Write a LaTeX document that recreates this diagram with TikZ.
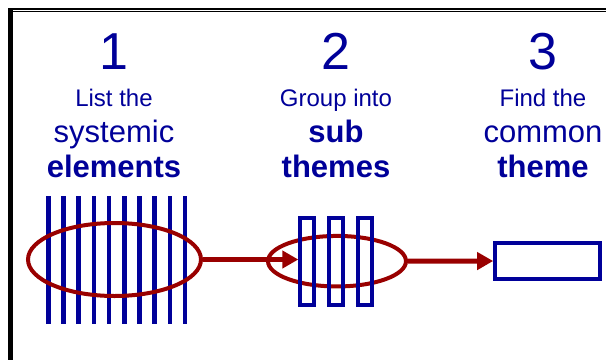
\documentclass[tikz,border=0pt]{standalone}
\usepackage{fontspec}
\setmainfont{Liberation Sans}
\usetikzlibrary{arrows.meta,shapes.geometric}
\definecolor{navy}{RGB}{0,0,153}
\definecolor{darkred}{RGB}{153,0,0}
\tikzset{
  digit/.style={anchor=base,text=navy,font=\fontsize{52}{52}\selectfont,inner sep=0},
  small/.style={anchor=base,text=navy,font=\fontsize{24}{24}\selectfont,inner sep=0},
  big/.style={anchor=base,text=navy,font=\fontsize{31}{31}\selectfont,inner sep=0},
  bigb/.style={anchor=base,text=navy,font=\fontsize{31}{31}\selectfont\bfseries,inner sep=0},
  ring/.style={ellipse,draw=darkred,line width=4pt,inner sep=0},
  bar/.style={draw=navy,line width=4.7pt},
  box/.style={rectangle,draw=navy,line width=4pt,inner sep=0},
  link/.style={draw=darkred,line width=5pt,-{Triangle[length=16pt,width=17pt]}},
}
\begin{document}
\begin{tikzpicture}[x=1pt,y=-1pt]
\useasboundingbox (0,0) rectangle (606,360);
% frame
\draw[line width=2.2pt] (8,9) -- (606,9);
\draw[line width=0.9pt] (11,11.4) -- (606,11.4);
\draw[line width=4.4pt] (10.5,8) -- (10.5,360);
% texts
\node[digit] (n1) at (114,69) {1};
\node[small] (a1) at (114,106) {List the};
\node[big]   (b1) at (114,142) {systemic};
\node[bigb]  (c1) at (114,177) {elements};
\node[digit] (n2) at (336,69) {2};
\node[small] (a2) at (336,106) {Group into};
\node[bigb]  (b2) at (336,142) {sub};
\node[bigb]  (c2) at (336,177) {themes};
\node[digit] (n3) at (543,69) {3};
\node[small] (a3) at (543,106) {Find the};
\node[big]   (b3) at (543,142) {common};
\node[bigb]  (c3) at (543,177) {theme};
% group 1
\foreach \i in {0,...,9} {
  \draw[bar] ({48.3+15.2*\i},196) -- ({48.3+15.2*\i},324);
}
\node[ring,minimum width=173pt,minimum height=73pt] (e1) at (114.5,259.5) {};
% group 2
\node[ring,minimum width=138pt,minimum height=50.5pt] (e2) at (337,261.2) {};
\node[box,minimum width=13.7pt,minimum height=87pt] (r1) at (307.2,261) {};
\node[box,minimum width=13.7pt,minimum height=87pt] (r2) at (336.1,261) {};
\node[box,minimum width=13.7pt,minimum height=87pt] (r3) at (365,261) {};
% group 3
\node[box,minimum width=104.4pt,minimum height=36.6pt] (r4) at (547.4,261) {};
% connectors
\draw[link] (e1.east) -- (e1.east -| r1.west);
\draw[link] (e2.east) -- (r4.west);
\end{tikzpicture}
\end{document}
